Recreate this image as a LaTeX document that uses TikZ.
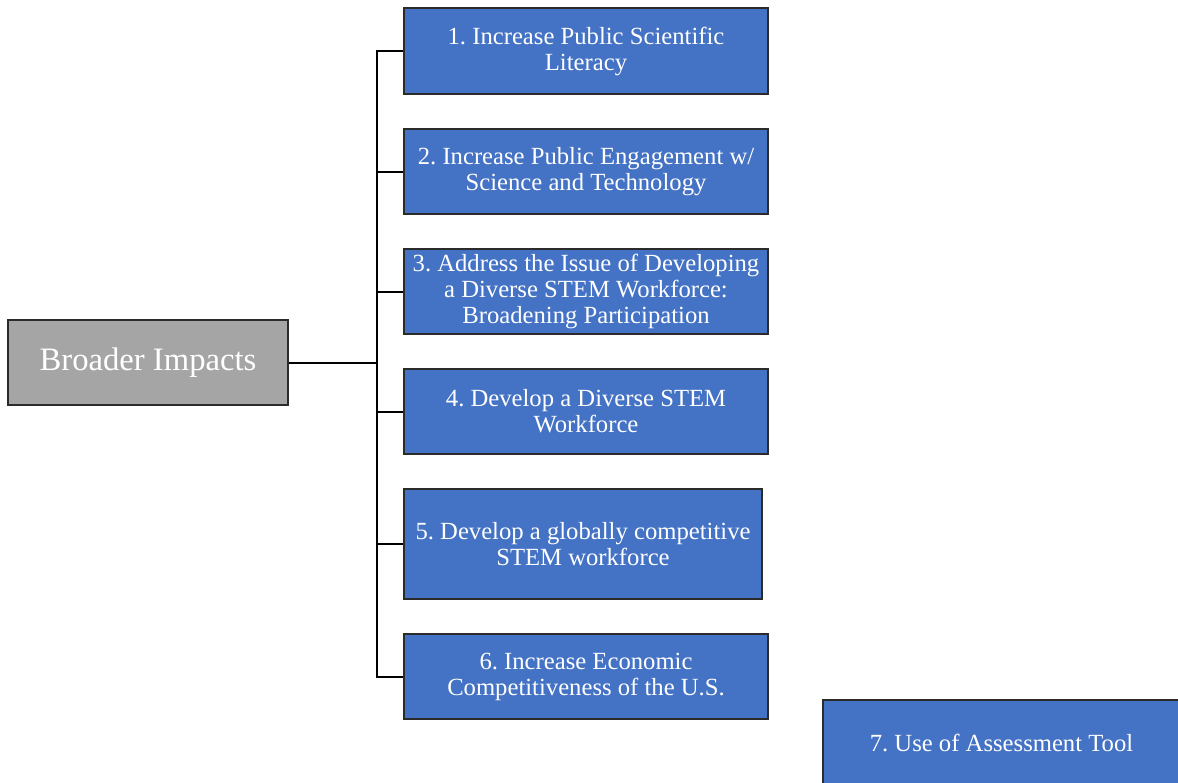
\documentclass[tikz,border=0pt]{standalone}
\usepackage{fontspec}
\setmainfont{Liberation Serif}
\frenchspacing
\definecolor{impactblue}{HTML}{4472C4}
\definecolor{rootgray}{HTML}{A5A5A5}
\definecolor{edgegray}{HTML}{2B2B2B}
\begin{document}
\begin{tikzpicture}[x=0.75pt,y=-0.75pt,
  goalbox/.style={draw=edgegray, line width=0.8pt, fill=impactblue, text=white,
    align=center, inner sep=1pt, font=\fontsize{18.5}{19.5}\selectfont,
    minimum width=273pt, minimum height=63.75pt},
  rootbox/.style={draw=edgegray, line width=0.8pt, fill=rootgray, text=white,
    align=center, font=\fontsize{24.5}{28}\selectfont,
    minimum width=210pt, minimum height=63.75pt},
  link/.style={draw=black, line width=1.5pt}]
\path[use as bounding box, clip] (0,0) rectangle (1178,782);

% root
\node[rootbox] (root) at (148,362.5) {Broader Impacts};

% goals
\node[goalbox, minimum height=64.5pt] (g1) at (586,51) {1. Increase Public Scientific\\Literacy};
\node[goalbox] (g2) at (586,171.5) {2. Increase Public Engagement w/\\Science and Technology};
\node[goalbox] (g3) at (586,291.5) {3. Address the Issue of Developing\\a Diverse STEM Workforce:\\Broadening Participation};
\node[goalbox] (g4) at (586,411.5) {4. Develop a Diverse STEM\\Workforce};
\node[goalbox, minimum width=268.5pt, minimum height=82.5pt] (g5) at (583,544) {5. Develop a globally competitive\\STEM workforce};
\node[goalbox] (g6) at (586,676.5) {6. Increase Economic\\Competitiveness of the U.S.};
\node[goalbox, minimum width=267.75pt] (g7) at (1001.5,742.5) {7. Use of Assessment Tool};

% tree connectors
\coordinate (spine) at (377,0);
\draw[link] (root.east) -- (root.east -| spine);
\draw[link, line cap=rect] (g1.west -| spine) -- (g6.west -| spine);
\foreach \i in {1,...,6}{
  \draw[link] (g\i.west -| spine) -- (g\i.west);
}
\end{tikzpicture}
\end{document}
